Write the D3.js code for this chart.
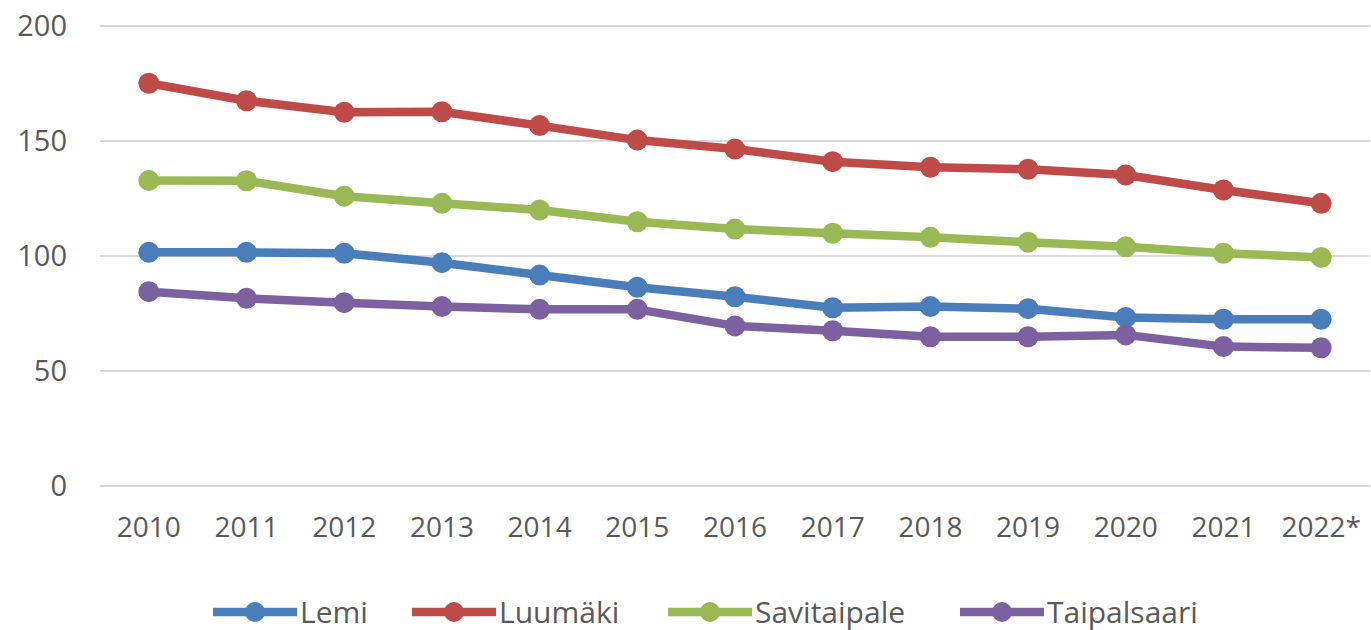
<!DOCTYPE html>
<html>
<head>
<meta charset="utf-8">
<script src="https://cdn.jsdelivr.net/npm/d3@7"></script>
<style>
  body { margin: 0; background: #fff; }
  text { font-family: "Open Sans", sans-serif; fill: #595959; }
</style>
</head>
<body>
<div id="chart"></div>
<script>
const years = ['2010', '2011', '2012', '2013', '2014', '2015', '2016', '2017', '2018', '2019', '2020', '2021', '2022*'];
const seriesNames = ['Lemi', 'Luumäki', 'Savitaipale', 'Taipalsaari'];
const lemi = [101.6, 101.6, 101.2, 97.1, 91.7, 86.4, 82.3, 77.5, 78, 77.1, 73.3, 72.5, 72.5];
const luumaki = [175.1, 167.5, 162.5, 162.7, 156.7, 150.4, 146.5, 141, 138.6, 137.7, 135.2, 128.7, 122.9];
const savitaipale = [132.8, 132.7, 126, 122.9, 120, 114.9, 111.7, 109.9, 108.1, 106, 104, 101.2, 99.4];
const taipalsaari = [84.5, 81.6, 79.7, 78, 76.8, 76.8, 69.6, 67.5, 64.9, 64.9, 65.7, 60.6, 60.1];
const yTicks = [0, 50, 100, 150, 200];
const colors = ['#4a7ebb', '#be4b48', '#98b954', '#7d60a0'];

const series = seriesNames.map((name, i) => ({
  name,
  color: colors[i],
  values: [lemi, luumaki, savitaipale, taipalsaari][i]
}));

const width = 1371, height = 630;
const svg = d3.select('#chart').append('svg')
  .attr('width', width)
  .attr('height', height);

const x = d3.scaleBand().domain(years).range([100, 1370]);
const y = d3.scaleLinear().domain([0, 200]).range([486, 26]);

// gridlines
svg.append('g')
  .selectAll('line')
  .data(yTicks)
  .enter()
  .append('line')
  .attr('x1', 100)
  .attr('x2', 1370)
  .attr('y1', d => y(d))
  .attr('y2', d => y(d))
  .attr('stroke', '#d9d9d9')
  .attr('stroke-width', 2);

// y axis labels
const yAxis = svg.append('g')
  .attr('transform', 'translate(67,0)')
  .call(d3.axisLeft(y).tickValues(yTicks).tickSize(0).tickPadding(0));
yAxis.select('.domain').remove();
yAxis.selectAll('text')
  .attr('font-size', '29px')
  .attr('font-family', '"Open Sans", sans-serif')
  .attr('fill', '#595959');

// x axis labels
const xAxis = svg.append('g')
  .attr('transform', 'translate(0,486)')
  .call(d3.axisBottom(x).tickSize(0).tickPadding(31));
xAxis.select('.domain').remove();
xAxis.selectAll('text')
  .attr('font-size', '28px')
  .attr('font-family', '"Open Sans", sans-serif')
  .attr('fill', '#595959');

const cx = d => x(d) + x.bandwidth() / 2;
const line = d3.line()
  .x((d, i) => cx(years[i]))
  .y(d => y(d));

const groups = svg.selectAll('.series')
  .data(series)
  .enter()
  .append('g')
  .attr('class', 'series');

groups.append('path')
  .attr('d', d => line(d.values))
  .attr('fill', 'none')
  .attr('stroke', d => d.color)
  .attr('stroke-width', 8.5)
  .attr('stroke-linejoin', 'round');

groups.selectAll('circle')
  .data(d => d.values.map((v, i) => ({ v, i, color: d.color })))
  .enter()
  .append('circle')
  .attr('cx', d => cx(years[d.i]))
  .attr('cy', d => y(d.v))
  .attr('r', 10.5)
  .attr('fill', d => d.color);

// legend
const legendX = [213, 412, 668, 960];
const legend = svg.selectAll('.legend')
  .data(series)
  .enter()
  .append('g')
  .attr('class', 'legend')
  .attr('transform', (d, i) => `translate(${legendX[i]}, 612)`);

legend.append('line')
  .attr('x1', 0)
  .attr('x2', 84)
  .attr('stroke', d => d.color)
  .attr('stroke-width', 8.5);

legend.append('circle')
  .attr('cx', 42)
  .attr('r', 10)
  .attr('fill', d => d.color);

legend.append('text')
  .attr('x', 87)
  .attr('dy', '0.35em')
  .attr('font-size', '30px')
  .text(d => d.name);
</script>
</body>
</html>
